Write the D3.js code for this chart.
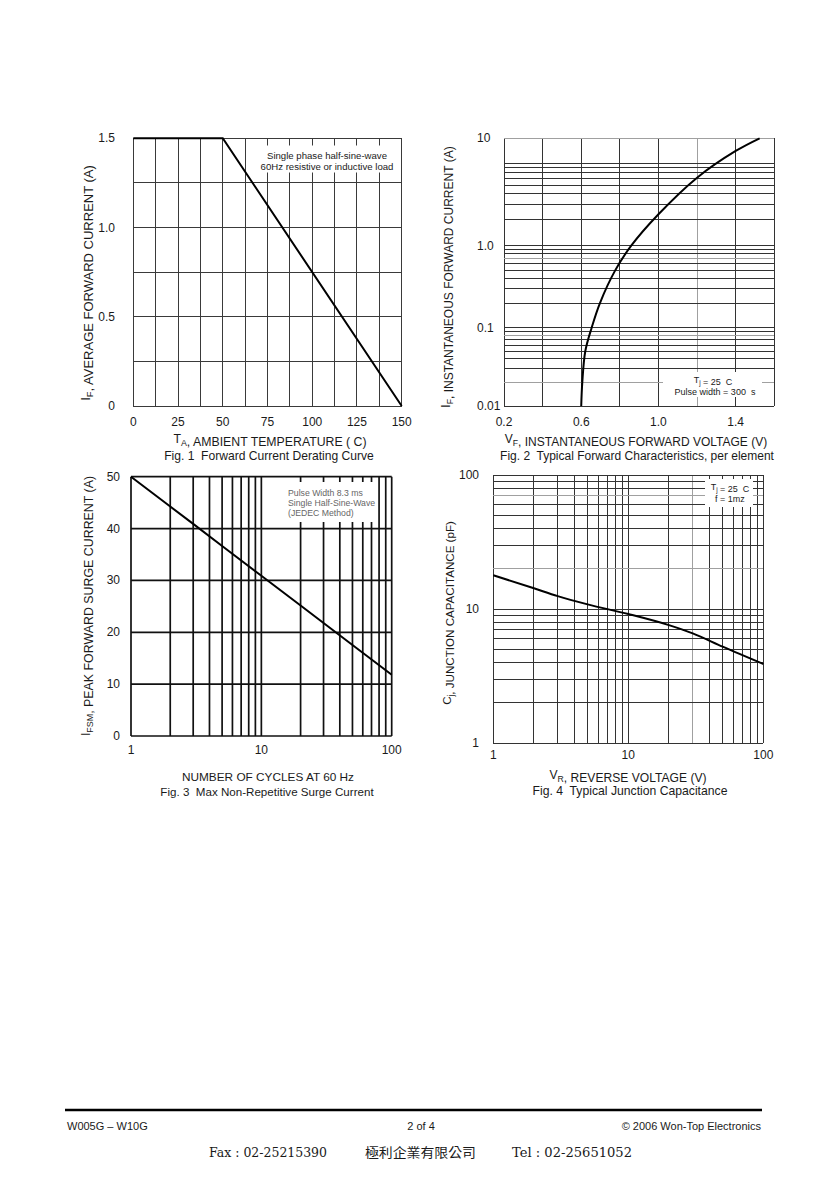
<!DOCTYPE html>
<html><head><meta charset="utf-8">
<script src="https://cdn.jsdelivr.net/npm/d3@7"></script>
<style>
body{margin:0;background:#fff}
svg text{font-family:"Liberation Sans",Arial,sans-serif;fill:#1a1a1a;white-space:pre}
</style>
</head><body>
<svg id="c" width="840" height="1189"></svg>
<script>
// ---------------- DATA ----------------
// Fig. 1 Forward Current Derating Curve
const fig1Temp = [0, 50, 150];
const fig1Current = [1.5, 1.5, 0];
const fig1XTicks = [0, 25, 50, 75, 100, 125, 150];
const fig1YTicks = [0, 0.5, 1.0, 1.5];
const fig1YLabels = ["0", "0.5", "1.0", "1.5"];

// Fig. 2 Typical Forward Characteristics
const fig2Voltage = [0.600, 0.6055, 0.621, 0.654, 0.697, 0.776, 0.859, 1.0, 1.2, 1.4, 1.524];
const fig2Current = [0.01, 0.02, 0.05, 0.1, 0.2, 0.5, 1.0, 2.31, 6.13, 9.48, 10];
const fig2XTicks = [0.2, 0.6, 1.0, 1.4];
const fig2XLabels = ["0.2", "0.6", "1.0", "1.4"];
const fig2YTicks = [0.01, 0.1, 1, 10];
const fig2YLabels = ["0.01", "0.1", "1.0", "10"];

// Fig. 3 Max Non-Repetitive Surge Current
const fig3Cycles = [1, 2, 3, 5, 10, 20, 30, 50, 100];
const fig3Current = [50, 44.25, 40.9, 36.65, 30.9, 25.15, 21.8, 17.55, 11.8];
const fig3XTicks = [1, 10, 100];
const fig3YTicks = [0, 10, 20, 30, 40, 50];

// Fig. 4 Typical Junction Capacitance
const fig4Voltage = [1, 2, 3, 5, 10, 20, 30, 50, 100];
const fig4Cap = [17.9, 14.3, 12.5, 10.85, 9.2, 7.6, 6.6, 5.25, 3.9];
const fig4XTicks = [1, 10, 100];
const fig4YTicks = [1, 10, 100];

// ---------------- DRAW ----------------
const svg = d3.select("#c");

function logGrid(lo, hi) {
  const out = [];
  for (let d = lo; d < hi * 0.999; d *= 10) {
    for (let k = 1; k <= 9; k++) out.push(+(k * d).toPrecision(6));
  }
  out.push(hi);
  return out;
}

function subText(g, x, y, parts, opts = {}) {
  const size = opts.size || 12;
  const sh = opts.shift || 3;
  const t = g.append("text").attr("x", x).attr("y", y)
    .attr("text-anchor", opts.anchor || "middle")
    .attr("font-size", size);
  if (opts.rotate) t.attr("transform", `rotate(-90,${x},${y})`);
  parts.forEach(p => {
    if (typeof p === "string") t.append("tspan").text(p);
    else {
      t.append("tspan").attr("font-size", size * 0.72).attr("dy", sh).text(p.sub);
      t.append("tspan").attr("dy", -sh).text("");
    }
  });
  return t;
}

function label(g, x, y, s, size, anchor) {
  return g.append("text").attr("x", x).attr("y", y).attr("text-anchor", anchor || "middle").attr("font-size", size).text(s);
}

// ---- Fig 1 ----
{
  const g = svg.append("g");
  const x = d3.scaleLinear().domain([0, 150]).range([133.3, 401.7]);
  const y = d3.scaleLinear().domain([0, 1.5]).range([406, 138.3]);
  const gl = g.append("g").attr("stroke", "#3a3a3a").attr("stroke-width", 1).attr("shape-rendering", "crispEdges");
  d3.range(0, 150.01, 12.5).forEach(v => gl.append("line").attr("x1", x(v)).attr("x2", x(v)).attr("y1", y(0)).attr("y2", y(1.5)));
  d3.range(0, 1.501, 0.25).forEach(v => gl.append("line").attr("x1", x(0)).attr("x2", x(150)).attr("y1", y(v)).attr("y2", y(v)));
  g.append("rect").attr("x", 250).attr("y", 145.5).attr("width", 150).attr("height", 27).attr("fill", "#fff");
  label(g, 327, 159, "Single phase half-sine-wave", 9.6);
  label(g, 327, 169.5, "60Hz resistive or inductive load", 9.6);
  const line = d3.line().x(i => x(fig1Temp[i])).y(i => y(fig1Current[i]));
  g.append("path").attr("d", line(d3.range(fig1Temp.length))).attr("fill", "none").attr("stroke", "#000").attr("stroke-width", 2);
  fig1YTicks.forEach((v, i) => label(g, 115, y(v) + 4, fig1YLabels[i], 12, "end"));
  fig1XTicks.forEach(v => label(g, x(v), 425.5, v, 12));
  subText(g, 270, 442.5, ["T", {sub: "A"}, ", AMBIENT TEMPERATURE ( C)"], {size: 12.3});
  label(g, 269, 459.5, "Fig. 1  Forward Current Derating Curve", 12.1);
  subText(g, 90, 283, ["I", {sub: "F"}, ", AVERAGE FORWARD CURRENT (A)"], {rotate: true, size: 13});
}

// ---- Fig 2 ----
{
  const g = svg.append("g");
  const x = d3.scaleLinear().domain([0.2, 1.6]).range([504, 774.3]);
  const y = d3.scaleLog().domain([0.01, 0.1, 1, 9, 10]).range([406, 327.7, 245.7, 163.3, 138.3]);
  const light = [10, 0.7, 0.08, 0.02];
  const gl = g.append("g").attr("stroke-width", 1).attr("shape-rendering", "crispEdges");
  d3.range(0.2, 1.6001, 0.2).forEach(v => gl.append("line").attr("x1", x(v)).attr("x2", x(v)).attr("y1", y(0.01)).attr("y2", y(10))
    .attr("stroke", Math.abs(v - 1.2) < 1e-6 ? "#a0a0a0" : "#333"));
  logGrid(0.01, 10).forEach(v => gl.append("line").attr("x1", x(0.2)).attr("x2", x(1.6)).attr("y1", y(v)).attr("y2", y(v))
    .attr("stroke", light.some(l => Math.abs(l - v) < 1e-9) ? "#a0a0a0" : "#333"));
  g.append("rect").attr("x", 663).attr("y", 372).attr("width", 99).attr("height", 25).attr("fill", "#fff");
  subText(g, 713, 382.5, ["T", {sub: "j"}, " = 25  C"], {size: 9, shift: 2});
  label(g, 715, 394.5, "Pulse width = 300  s", 9);
  const line = d3.line().x(i => x(fig2Voltage[i])).y(i => y(fig2Current[i])).curve(d3.curveCatmullRom.alpha(0.5));
  g.append("path").attr("d", line(d3.range(fig2Voltage.length))).attr("fill", "none").attr("stroke", "#000").attr("stroke-width", 2);
  fig2YTicks.forEach((v, i) => label(g, 477, y(v) + 4, fig2YLabels[i], 12, "start"));
  fig2XTicks.forEach((v, i) => label(g, x(v), 425.5, fig2XLabels[i], 12));
  subText(g, 636, 442.5, ["V", {sub: "F"}, ", INSTANTANEOUS FORWARD VOLTAGE (V)"], {size: 12});
  label(g, 637, 459.5, "Fig. 2  Typical Forward Characteristics, per element", 12);
  subText(g, 450, 277, ["I", {sub: "F"}, ", INSTANTANEOUS FORWARD CURRENT (A)"], {rotate: true, size: 12});
}

// ---- Fig 3 ----
{
  const g = svg.append("g");
  const x = d3.scaleLog().domain([1, 100]).range([131, 391.7]);
  const y = d3.scaleLinear().domain([0, 50]).range([736, 476.7]);
  const gl = g.append("g").attr("stroke", "#111").attr("stroke-width", 1.7);
  logGrid(1, 100).forEach(v => gl.append("line").attr("x1", x(v)).attr("x2", x(v)).attr("y1", y(0)).attr("y2", y(50)));
  fig3YTicks.forEach(v => gl.append("line").attr("x1", x(1)).attr("x2", x(100)).attr("y1", y(v)).attr("y2", y(v)));
  g.append("rect").attr("x", 283).attr("y", 482).attr("width", 93).attr("height", 40).attr("fill", "#fff");
  ["Pulse Width 8.3 ms", "Single Half-Sine-Wave", "(JEDEC Method)"].forEach((s, i) =>
    g.append("text").attr("x", 288).attr("y", 496 + i * 10).attr("font-size", 8.7).style("fill", "#666").text(s));
  const line = d3.line().x(i => x(fig3Cycles[i])).y(i => y(fig3Current[i]));
  g.append("path").attr("d", line(d3.range(fig3Cycles.length))).attr("fill", "none").attr("stroke", "#000").attr("stroke-width", 2);
  fig3YTicks.forEach(v => label(g, 120, y(v) + 4, v, 12, "end"));
  fig3XTicks.forEach(v => label(g, x(v), 754, v, 12));
  label(g, 268, 781, "NUMBER OF CYCLES AT 60 Hz", 11.8);
  label(g, 267, 795.5, "Fig. 3  Max Non-Repetitive Surge Current", 11.6);
  subText(g, 90, 606, ["I", {sub: "FSM"}, ", PEAK FORWARD SURGE CURRENT (A)"], {rotate: true, size: 12.4});
}

// ---- Fig 4 ----
{
  const g = svg.append("g");
  const x = d3.scaleLog().domain([1, 100]).range([493.3, 763.3]);
  const y = d3.scaleLog().domain([1, 100]).range([743.3, 475]);
  const gl = g.append("g").attr("stroke-width", 1).attr("shape-rendering", "crispEdges");
  logGrid(1, 100).forEach(v => gl.append("line").attr("x1", x(v)).attr("x2", x(v)).attr("y1", y(1)).attr("y2", y(100))
    .attr("stroke", v === 30 ? "#a0a0a0" : "#333"));
  logGrid(1, 100).forEach(v => gl.append("line").attr("x1", x(1)).attr("x2", x(100)).attr("y1", y(v)).attr("y2", y(v))
    .attr("stroke", (v === 20 || v === 70) ? "#a0a0a0" : "#333"));
  g.append("rect").attr("x", 705).attr("y", 479).attr("width", 48).attr("height", 28).attr("fill", "#fff");
  subText(g, 730, 490, ["T", {sub: "j"}, " = 25  C"], {size: 9, shift: 2});
  label(g, 730, 502, "f = 1mz", 9);
  const line = d3.line().x(i => x(fig4Voltage[i])).y(i => y(fig4Cap[i])).curve(d3.curveMonotoneX);
  g.append("path").attr("d", line(d3.range(fig4Voltage.length))).attr("fill", "none").attr("stroke", "#000").attr("stroke-width", 2);
  fig4YTicks.forEach(v => label(g, 479, y(v) + 4, v, 12, "end"));
  fig4XTicks.forEach(v => label(g, x(v), 759, v, 12));
  subText(g, 628, 779, ["V", {sub: "R"}, ", REVERSE VOLTAGE (V)"], {size: 12.1});
  label(g, 630, 794.5, "Fig. 4  Typical Junction Capacitance", 12.2);
  subText(g, 451, 613, ["C", {sub: "j"}, ", JUNCTION CAPACITANCE (pF)"], {rotate: true, size: 11.6});
}

// ---- Footer ----
{
  const g = svg.append("g");
  g.append("line").attr("x1", 65).attr("x2", 762).attr("y1", 1110).attr("y2", 1110).attr("stroke", "#000").attr("stroke-width", 2.5);
  label(g, 67, 1129.5, "W005G – W10G", 11, "start");
  label(g, 421, 1129.5, "2 of 4", 11);
  label(g, 761, 1129.5, "© 2006 Won-Top Electronics", 11, "end");
  const f2 = [["Fax : 02-25215390", 209, 118, "'DejaVu Serif','Liberation Serif',serif"],
              ["極利企業有限公司", 365, 111, "'Noto Sans CJK TC','Noto Sans CJK SC',sans-serif"],
              ["Tel : 02-25651052", 512, 120, "'DejaVu Serif','Liberation Serif',serif"]];
  f2.forEach(([s, x0, w, ff]) => g.append("text").attr("x", x0).attr("y", 1157).attr("font-size", 13)
    .attr("textLength", w).attr("lengthAdjust", "spacingAndGlyphs").style("font-family", ff).text(s));
}
</script>
</body></html>
